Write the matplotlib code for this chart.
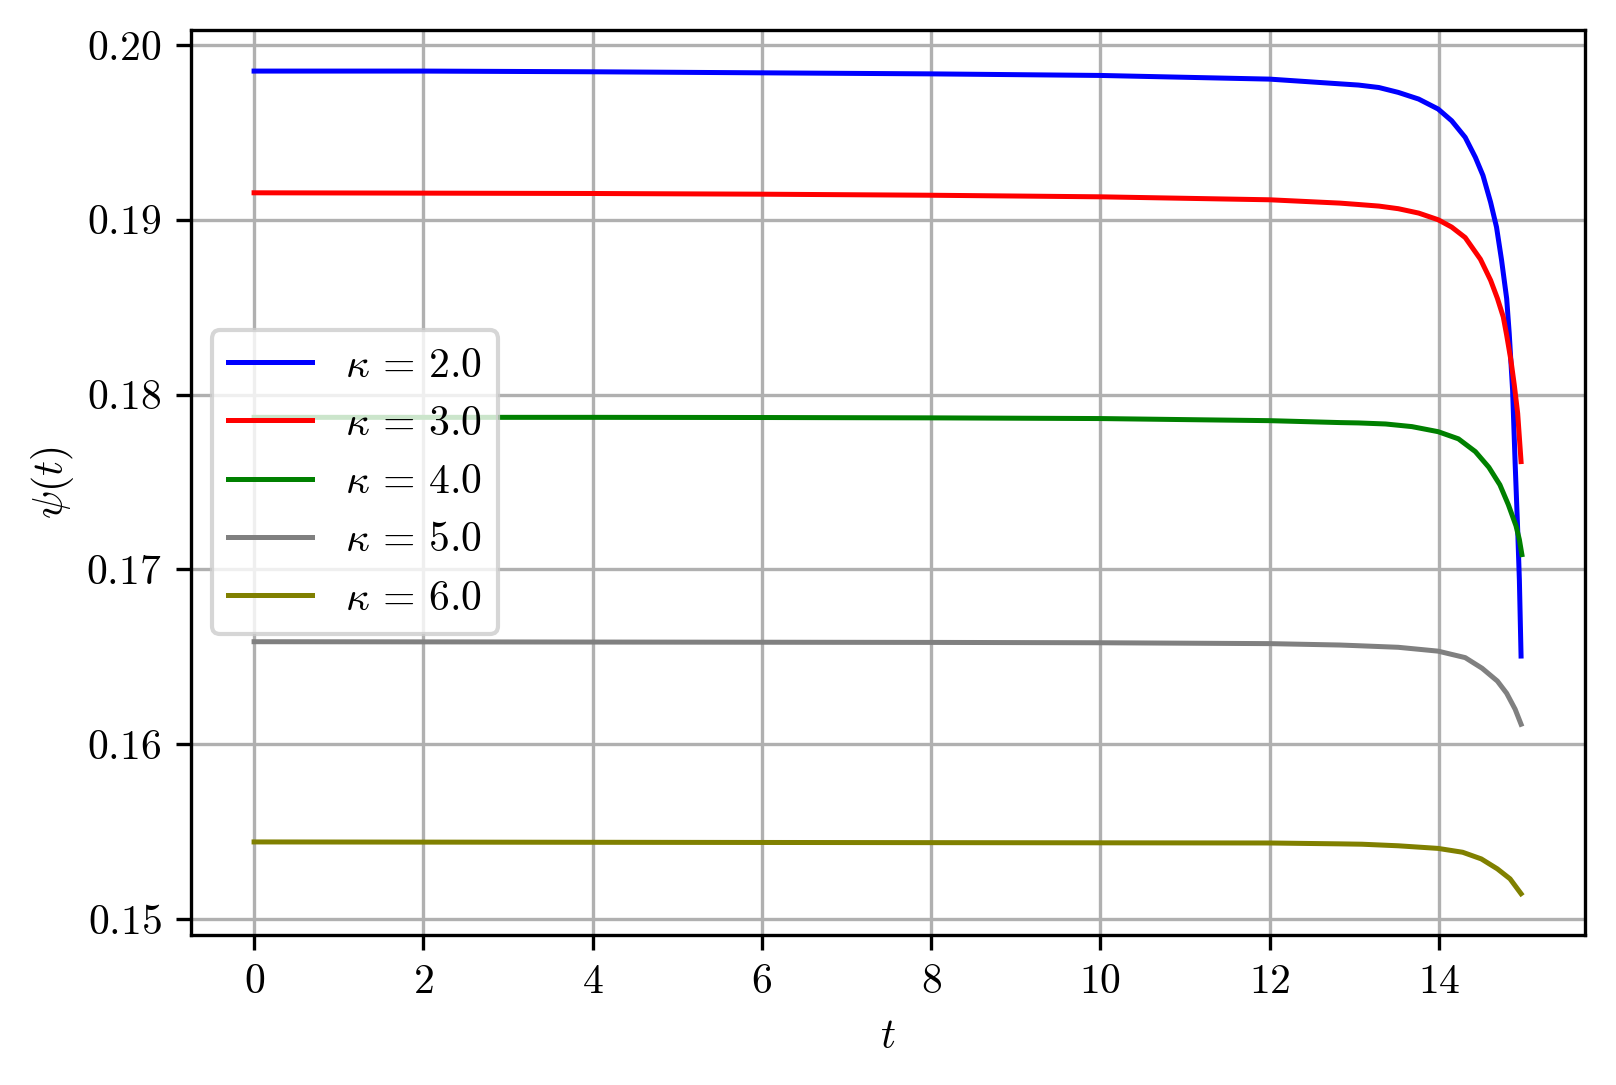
import matplotlib
matplotlib.use("Agg")
import matplotlib.pyplot as plt

# Computer Modern look
plt.rcParams["font.family"] = "serif"
plt.rcParams["font.serif"] = ["cmr10"]
plt.rcParams["mathtext.fontset"] = "cm"
plt.rcParams["axes.formatter.use_mathtext"] = True
plt.rcParams["font.size"] = 10

kappas = [2.0, 3.0, 4.0, 5.0, 6.0]
colors = ["blue", "red", "green", "gray", "olive"]

# values, denser near t = 15
t_k2 = [0, 2, 4, 6, 8, 10, 12, 12.83, 13.05, 13.29, 13.52, 13.76, 13.99, 14.15, 14.31,
        14.43, 14.52, 14.61, 14.68, 14.74, 14.80, 14.83, 14.87, 14.90, 14.93, 14.95, 14.97]
psi_k2 = [0.19850, 0.19850, 0.19846, 0.19840, 0.19834, 0.19825, 0.19804, 0.19777, 0.19770,
          0.19756, 0.19728, 0.19690, 0.19633, 0.19566, 0.19471, 0.19357, 0.19253, 0.19100,
          0.18958, 0.18768, 0.18549, 0.18351, 0.18026, 0.17608, 0.17228, 0.16942, 0.16505]

t_k3 = [0, 2, 4, 6, 8, 10, 12, 12.83, 13.05, 13.29, 13.52, 13.76, 13.99, 14.15, 14.31,
        14.49, 14.61, 14.69, 14.76, 14.80, 14.85, 14.89, 14.93, 14.97]
psi_k3 = [0.19154, 0.19152, 0.19150, 0.19146, 0.19140, 0.19131, 0.19114, 0.19095, 0.19087,
          0.19078, 0.19063, 0.19038, 0.19000, 0.18958, 0.18898, 0.18774, 0.18654, 0.18551,
          0.18444, 0.18340, 0.18197, 0.18055, 0.17893, 0.17617]

t_k4 = [0, 4, 6, 8, 10, 12, 12.83, 13.05, 13.37, 13.68, 13.99, 14.23, 14.43, 14.59,
        14.72, 14.82, 14.91, 14.95, 14.98]
psi_k4 = [0.17870, 0.17870, 0.17869, 0.17867, 0.17863, 0.17851, 0.17840, 0.17838, 0.17832,
          0.17817, 0.17788, 0.17747, 0.17674, 0.17584, 0.17484, 0.17370, 0.17250, 0.17171,
          0.17085]

t_k5 = [0, 8, 10, 12, 12.83, 13.05, 13.52, 13.99, 14.31, 14.51, 14.69, 14.80, 14.90, 14.97]
psi_k5 = [0.16587, 0.16583, 0.16581, 0.16576, 0.16568, 0.16564, 0.16555, 0.16533, 0.16496,
          0.16435, 0.16362, 0.16292, 0.16201, 0.16115]

t_k6 = [0, 12, 12.83, 13.09, 13.52, 13.99, 14.28, 14.50, 14.69, 14.84, 14.97]
psi_k6 = [0.15442, 0.15436, 0.15431, 0.15429, 0.15420, 0.15405, 0.15383, 0.15345, 0.15288,
          0.15231, 0.15146]

series = [(t_k2, psi_k2), (t_k3, psi_k3), (t_k4, psi_k4), (t_k5, psi_k5), (t_k6, psi_k6)]

fig, ax = plt.subplots(figsize=(1616 / 300, 1085 / 300), dpi=300)
fig.subplots_adjust(left=0.118, right=0.981, top=0.9724, bottom=0.1384)

for (t, psi), k, c in zip(series, kappas, colors):
    ax.plot(t, psi, color=c, lw=1.2, label=rf"$\kappa \,{{=}}\, {k:.1f}$")

ax.set_xticks([0, 2, 4, 6, 8, 10, 12, 14])
ax.set_yticks([0.15, 0.16, 0.17, 0.18, 0.19, 0.20])
ax.set_xlabel(r"$t$")
ax.set_ylabel(r"$\psi(t)$", labelpad=2.5)
ax.grid(True)
ax.legend(loc="center left")

fig.savefig("out.png", dpi=300)
